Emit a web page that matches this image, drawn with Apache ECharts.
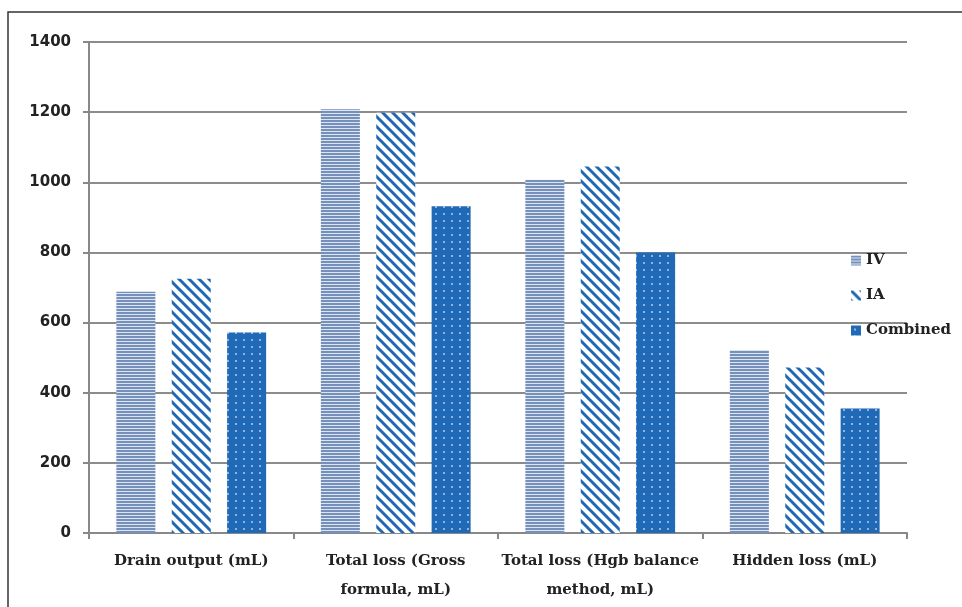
<!DOCTYPE html>
<html>
<head>
<meta charset="utf-8">
<script src="https://cdn.jsdelivr.net/npm/echarts@6/dist/echarts.min.js"></script>
<style>
html,body{margin:0;padding:0;background:#fff;}
#chart{width:962px;height:607px;}
</style>
</head>
<body>
<div id="chart"></div>
<script>
const categories = ["Drain output (mL)", "Total loss (Gross\nformula, mL)", "Total loss (Hgb balance\nmethod, mL)", "Hidden loss (mL)"];
const seriesNames = ["IV", "IA", "Combined"];
const ivValues = [688, 1208, 1007, 522];
const iaValues = [725, 1198, 1045, 472];
const combinedValues = [572, 932, 800, 355];
const yTicks = { min: 0, max: 1400, interval: 200 };

function makeCanvas(w, h, draw) {
  const c = document.createElement('canvas');
  c.width = w; c.height = h;
  const ctx = c.getContext('2d');
  draw(ctx);
  return c;
}
const ivPattern = makeCanvas(3, 3, ctx => {
  ctx.fillStyle = '#dde5f0'; ctx.fillRect(0, 0, 3, 3);
  ctx.fillStyle = '#7490bb'; ctx.fillRect(0, 0, 3, 2);
});
const iaPattern = makeCanvas(10, 10, ctx => {
  ctx.fillStyle = '#ffffff'; ctx.fillRect(0, 0, 10, 10);
  ctx.strokeStyle = '#1f68b4'; ctx.lineWidth = 3;
  ctx.beginPath();
  for (let k = -2; k <= 2; k++) {
    ctx.moveTo(k * 10 - 5, -5); ctx.lineTo(k * 10 + 15, 15);
  }
  ctx.stroke();
});
const combPattern = makeCanvas(16, 14, ctx => {
  ctx.fillStyle = '#1f69b7'; ctx.fillRect(0, 0, 16, 14);
  ctx.fillStyle = '#8fb2dc';
  ctx.fillRect(3, 3, 2, 2);
  ctx.fillRect(11, 3, 2, 2);
  ctx.fillRect(3, 10, 2, 2);
  ctx.fillRect(11, 10, 2, 2);
});

const chart = echarts.init(document.getElementById('chart'), null, { renderer: 'canvas' });
const serifFont = '"DejaVu Serif", "Liberation Serif", serif';
const patterns = [ivPattern, iaPattern, combPattern];
const values = [ivValues, iaValues, combinedValues];

chart.setOption({
  animation: false,
  backgroundColor: '#ffffff',
  graphic: [{
    type: 'polyline',
    shape: { points: [[8, 607], [8, 12], [962, 12]] },
    style: { stroke: '#333', lineWidth: 1.5, fill: null },
    silent: true
  }],
  legend: {
    orient: 'vertical',
    left: 846,
    top: 248,
    itemWidth: 10,
    itemHeight: 10,
    itemGap: 20,
    icon: 'rect',
    textStyle: { fontFamily: serifFont, fontSize: 15, color: '#222', fontWeight: 'bold' },
    data: seriesNames
  },
  grid: { left: 89, right: 55, top: 42, bottom: 74, containLabel: false },
  xAxis: {
    type: 'category',
    data: categories,
    axisLine: { lineStyle: { color: '#888', width: 2 } },
    axisTick: { show: true, length: 6, lineStyle: { color: '#888', width: 2 } },
    axisLabel: {
      interval: 0,
      margin: 14,
      fontFamily: serifFont,
      fontSize: 15,
      lineHeight: 29,
      color: '#222',
      fontWeight: 'bold'
    }
  },
  yAxis: {
    type: 'value',
    min: yTicks.min,
    max: yTicks.max,
    interval: yTicks.interval,
    axisLine: { show: true, lineStyle: { color: '#888', width: 2 } },
    axisTick: { show: true, length: 6, lineStyle: { color: '#888', width: 2 } },
    splitLine: { lineStyle: { color: '#8c8c8c', width: 2 } },
    axisLabel: {
      margin: 18,
      formatter: v => String(v),
      fontFamily: '"DejaVu Sans", Verdana, sans-serif',
      fontSize: 15,
      fontWeight: 'bold',
      color: '#222'
    }
  },
  series: seriesNames.map((name, i) => ({
    name: name,
    type: 'bar',
    data: values[i],
    barWidth: 39,
    barGap: '42%',
    itemStyle: { color: { image: patterns[i], repeat: 'repeat' } }
  }))
});
</script>
</body>
</html>
